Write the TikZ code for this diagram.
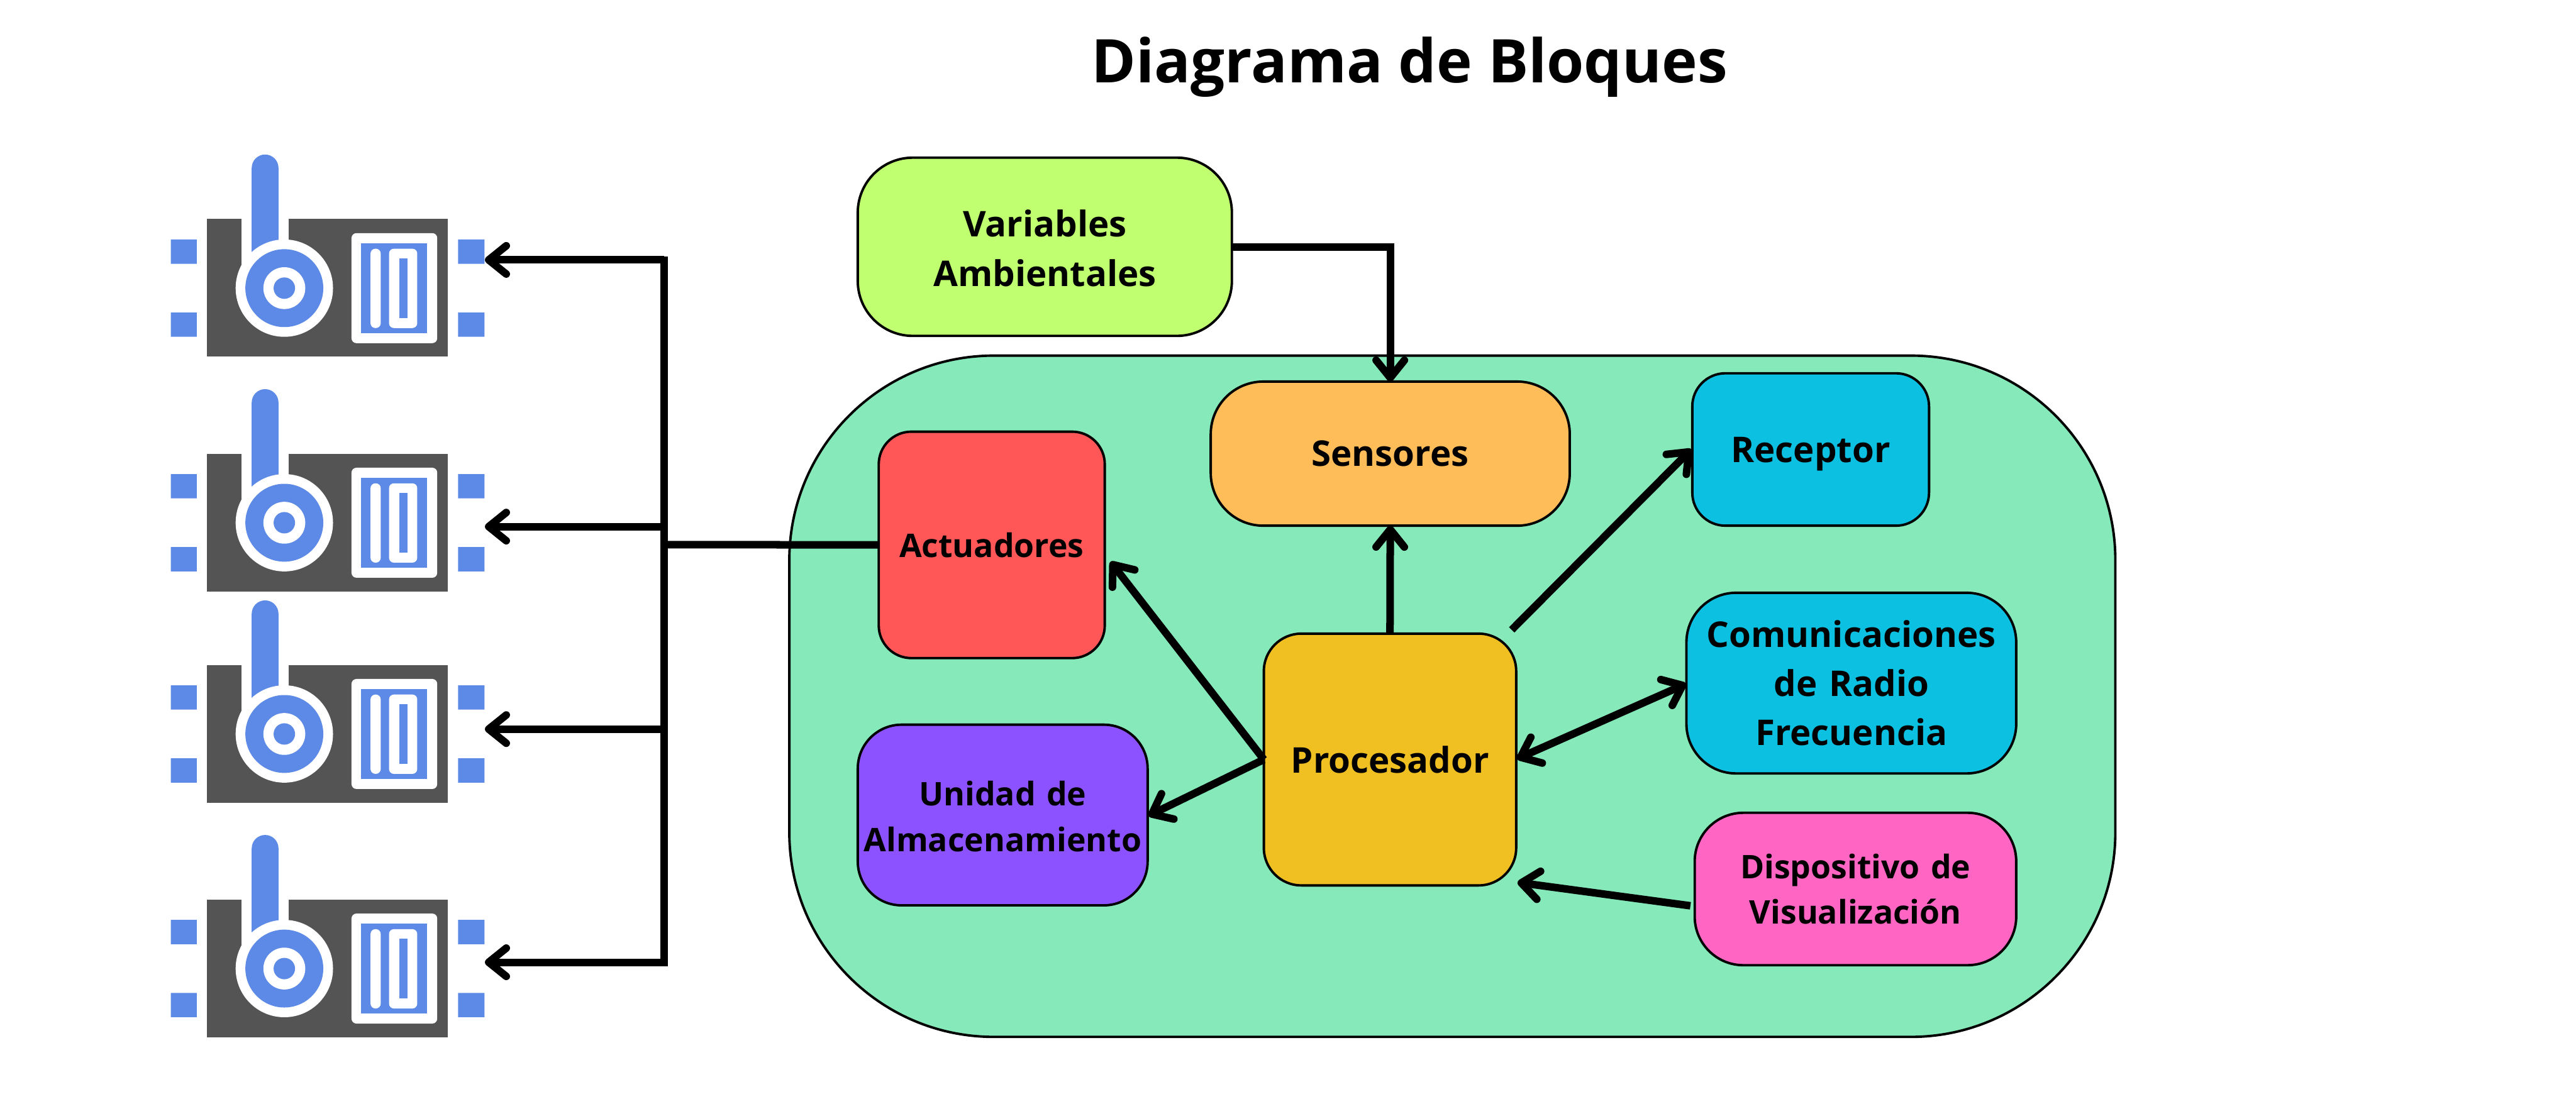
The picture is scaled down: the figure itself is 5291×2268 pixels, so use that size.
\documentclass[tikz,border=0pt]{standalone}
\usepackage{fontspec}
\setmainfont{Open Sans}[BoldFont={Open Sans Bold}]
\usetikzlibrary{arrows.meta}
\definecolor{contc}{HTML}{86E9BA}
\definecolor{varc}{HTML}{BFFF70}
\definecolor{actc}{HTML}{FF5757}
\definecolor{senc}{HTML}{FFBD59}
\definecolor{cyanc}{HTML}{0CC0E1}
\definecolor{proc}{HTML}{F0BF22}
\definecolor{purc}{HTML}{8C52FF}
\definecolor{pinkc}{HTML}{FF66C4}
\definecolor{darkc}{HTML}{545454}
\definecolor{bluec}{HTML}{5C8AE6}
\newcommand{\nudge}[1]{\vspace*{#1}}
\tikzset{
  blockbox/.style={draw=black,line width=0.05cm,outer sep=0pt,inner sep=0pt,align=center,font=\bfseries\fontsize{20.7}{28.7}\selectfont},
  conn/.style={line width=0.155cm,-{Straight Barb[length=0.36cm,width=0.58cm,round]}},
  dconn/.style={line width=0.155cm,{Straight Barb[length=0.36cm,width=0.58cm,round]}-{Straight Barb[length=0.36cm,width=0.58cm,round]}},
  wire/.style={line width=0.155cm},
}
\newcommand{\servoicon}[1]{%
\begin{scope}[shift={(0,#1)}]
  \fill[bluec] (351,492) rectangle (404,542) (351,642) rectangle (404,692) (941,492) rectangle (995,542) (941,642) rectangle (995,692);
  \fill[darkc] (425,450) rectangle (920,733);
  \fill[white] (496,450) rectangle (593,545);
  \fill[bluec] (517,560) -- (517,345) arc[start angle=180,end angle=360,radius=27.5] -- (572,560) -- cycle;
  \fill[white] (584,592) circle[radius=100];
  \fill[bluec] (584,592) circle[radius=80];
  \fill[white] (584,592) circle[radius=43];
  \fill[bluec] (584,592) circle[radius=22];
  \fill[white,rounded corners=0.1cm] (722,479) rectangle (898,705);
  \fill[bluec] (742,500) rectangle (877,684);
  \fill[white,rounded corners=0.1cm] (761,511) rectangle (782,674);
  \fill[white,rounded corners=0.1cm] (799,511) rectangle (857,674);
  \fill[bluec] (820,531) rectangle (837,653);
\end{scope}}
\begin{document}
\begin{tikzpicture}[x=0.01cm,y=-0.01cm]
\useasboundingbox (0,0) rectangle (5291,2268);
\node[font=\bfseries\fontsize{35.2}{40}\selectfont] (title) at (2895,138) {Diagrama de Bloques};
\servoicon{0}\servoicon{482}\servoicon{916}\servoicon{1398}
\node[blockbox,fill=contc,minimum width=27.22cm,minimum height=13.99cm,rounded corners=4.2cm] (cont) at (2983,1430.5) {};
\node[blockbox,fill=varc,minimum width=7.68cm,minimum height=3.66cm,rounded corners=1.13cm,text width=7.5cm] (vars) at (2146,507) {Variables\\Ambientales\nudge{-0.06cm}};
\node[blockbox,fill=actc,minimum width=4.64cm,minimum height=4.65cm,rounded corners=0.67cm,text width=4.5cm,font=\bfseries\fontsize{19}{26}\selectfont] (actu) at (2037,1119.5) {Actuadores};
\node[blockbox,fill=senc,minimum width=7.37cm,minimum height=2.96cm,rounded corners=1.08cm,text width=7.2cm] (sens) at (2855.5,932) {Sensores\nudge{-0.06cm}};
\node[blockbox,fill=cyanc,minimum width=4.86cm,minimum height=3.13cm,rounded corners=0.68cm,text width=4.7cm] (rece) at (3719,923.5) {Receptor\nudge{-0.2cm}};
\node[blockbox,fill=proc,minimum width=5.18cm,minimum height=5.17cm,rounded corners=0.77cm,text width=5cm] (proce) at (2855,1560.5) {Procesador};
\node[blockbox,fill=cyanc,minimum width=6.77cm,minimum height=3.71cm,rounded corners=1.02cm,text width=6.6cm] (comm) at (3802.5,1403.5) {Comunicaciones\\de Radio\\Frecuencia};
\node[blockbox,fill=pinkc,minimum width=6.6cm,minimum height=3.13cm,rounded corners=1cm,text width=6.4cm,font=\bfseries\fontsize{19}{26.2}\selectfont] (disp) at (3811,1826.5) {Dispositivo de\\Visualización};
\node[blockbox,fill=purc,minimum width=5.95cm,minimum height=3.71cm,rounded corners=0.9cm,text width=5.9cm,font=\bfseries\fontsize{19}{27}\selectfont] (stor) at (2059.5,1674.5) {Unidad de\\Almacenamiento\nudge{-0.06cm}};
% free ends
\coordinate (busT) at (1364,527);
\coordinate (busB) at (1364,1985);
\coordinate (j1) at (1364,534);
\coordinate (j2) at (1364,1082);
\coordinate (j3) at (1364,1498);
\coordinate (j4) at (1364,1977);
\coordinate (ja) at (1364,1119);
\coordinate (t1) at (996,534);
\coordinate (t2) at (996,1082);
\coordinate (t3) at (996,1498);
\coordinate (t4) at (996,1977);
\coordinate (tact) at (2281,1154);
\coordinate (tsto) at (2359,1676);
\coordinate (rs) at (3105,1294);
\coordinate (rt) at (3474,923);
\coordinate (dt) at (3117,1813);
\coordinate (ds) at (3472,1861);
\coordinate (ct) at (3116,1559);
\coordinate (ce) at (3463,1405);
\draw[wire] (busT) -- (busB);
\draw[wire] (ja) -- (actu.west);
\draw[conn] (j1) -- (t1);
\draw[conn] (j2) -- (t2);
\draw[conn] (j3) -- (t3);
\draw[conn] (j4) -- (t4);
\draw[conn] (vars.east) -| (sens.north);
\draw[conn] (proce.north) -- (sens.south);
\draw[conn] (proce.west) -- (tact);
\draw[conn] (proce.west) -- (tsto);
\draw[conn] (rs) -- (rt);
\draw[dconn] (ct) -- (ce);
\draw[conn] (ds) -- (dt);
\end{tikzpicture}
\end{document}
